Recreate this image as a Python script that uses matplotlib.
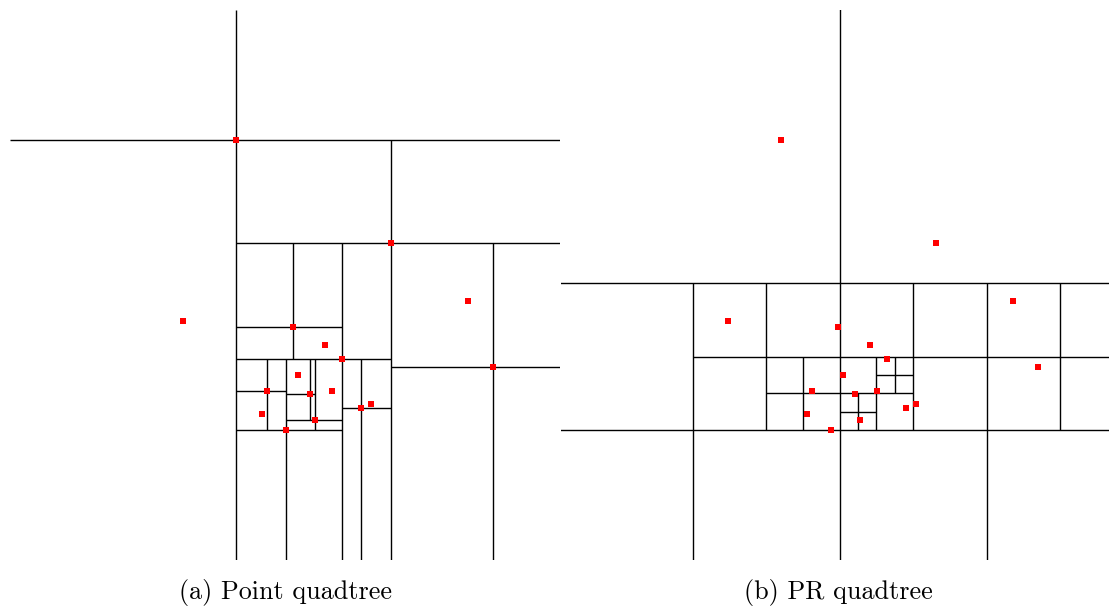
import matplotlib
matplotlib.use('Agg')
import matplotlib.pyplot as plt

# points in insertion order (pixel-like coordinates, y grows downward)
xs = [235.7, 391.0, 183.0, 493.0, 468.0, 342.0, 293.3, 325.3, 286.3,
      266.7, 262.0, 315.2, 310.3, 297.7, 331.8, 361.0, 371.3]
ys = [140.3, 242.7, 321.0, 367.0, 301.0, 358.7, 326.7, 345.0, 430.3,
      391.0, 414.0, 420.0, 393.6, 375.0, 390.7, 408.3, 403.7]

# view windows of the two panels
left_xlim = (10, 560)
right_xlim = (16, 564)
ylim = (560, 10)

# root square of the PR quadtree (centre, half side)
pr_root = (294.5, 283.0, 294.0)


def point_quadtree(xs, ys, bounds):
    nodes = []  # each: [x, y, bounds, children dict]
    for x, y in zip(xs, ys):
        if not nodes:
            nodes.append([x, y, bounds, {}])
            continue
        cur = nodes[0]
        while True:
            cx, cy, (x0, x1, y0, y1), kids = cur
            q = (x >= cx, y >= cy)
            if q in kids:
                cur = kids[q]
                continue
            nb = (cx if q[0] else x0, x1 if q[0] else cx,
                  cy if q[1] else y0, y1 if q[1] else cy)
            node = [x, y, nb, {}]
            kids[q] = node
            nodes.append(node)
            break
    segs = []
    for cx, cy, (x0, x1, y0, y1), kids in nodes:
        if kids:
            segs.append(([cx, cx], [y0, y1]))
            segs.append(([x0, x1], [cy, cy]))
    return segs


def pr_quadtree(pts, cx, cy, h, segs):
    if len(pts) <= 1:
        return
    segs.append(([cx, cx], [cy - h, cy + h]))
    segs.append(([cx - h, cx + h], [cy, cy]))
    for qx in (False, True):
        for qy in (False, True):
            sub = [p for p in pts if (p[0] >= cx) == qx and (p[1] >= cy) == qy]
            ncx = cx + h / 2 if qx else cx - h / 2
            ncy = cy + h / 2 if qy else cy - h / 2
            pr_quadtree(sub, ncx, ncy, h / 2, segs)


W, H = 1109, 609
fig = plt.figure(figsize=(W / 100, H / 100), dpi=100)
ax1 = fig.add_axes([10 / W, (H - 560) / H, 550 / W, 550 / H])
ax2 = fig.add_axes([561 / W, (H - 560) / H, 548 / W, 550 / H])

segs_a = point_quadtree(xs, ys, (left_xlim[0], left_xlim[1], ylim[1], ylim[0]))
segs_b = []
pr_quadtree(list(zip(xs, ys)), *pr_root, segs_b)

for ax, segs, xl in [(ax1, segs_a, left_xlim), (ax2, segs_b, right_xlim)]:
    for sx, sy in segs:
        ax.plot(sx, sy, color='black', lw=1.0, solid_capstyle='butt', zorder=1)
    ax.plot(xs, ys, 's', color='red', markersize=5, markeredgewidth=0, zorder=3)
    ax.set_xlim(*xl)
    ax.set_ylim(*ylim)
    ax.axis('off')

fig.text(285 / W, (H - 593) / H, '(a) Point quadtree', family='cmr10',
         fontsize=18.8, ha='center', va='center')
fig.text(838 / W, (H - 593) / H, '(b) PR quadtree', family='cmr10',
         fontsize=18.8, ha='center', va='center')

fig.savefig('out.png', dpi=100)
